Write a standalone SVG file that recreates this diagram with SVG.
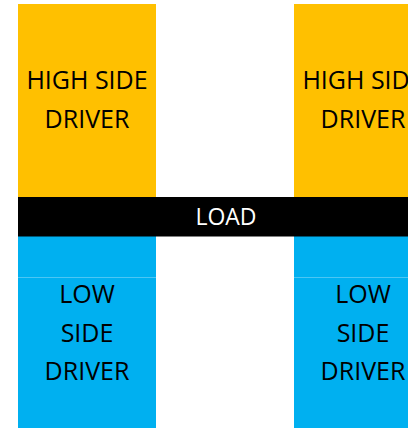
<svg xmlns="http://www.w3.org/2000/svg" width="408" height="428" viewBox="0 0 408 428">
  <style>
    .high { fill: #FFC000; }
    .low { fill: #00B0F0; }
    .seam { stroke: #4CC6F4; stroke-width: 1; }
    .bar { fill: #000000; }
    .lbl { font-family: "Open Sans", "Liberation Sans", sans-serif; font-size: 25px; fill: #000000; text-anchor: middle; }
    .lbl-load { font-family: "Open Sans", "Liberation Sans", sans-serif; font-size: 23px; fill: #FFFFFF; text-anchor: middle; }
  </style>
  <rect width="408" height="428" fill="#FFFFFF"/>

  <!-- high side drivers -->
  <g id="high-left">
    <rect class="high" x="18" y="4" width="138" height="194"/>
    <text class="lbl" x="87" y="89">HIGH SIDE</text>
    <text class="lbl" x="87" y="128">DRIVER</text>
  </g>
  <g id="high-right">
    <rect class="high" x="294" y="4" width="138" height="194"/>
    <text class="lbl" x="363" y="89">HIGH SIDE</text>
    <text class="lbl" x="363" y="128">DRIVER</text>
  </g>

  <!-- low side drivers -->
  <g id="low-left">
    <rect class="low" x="18" y="235" width="138" height="193"/>
    <line class="seam" x1="18" y1="277.5" x2="156" y2="277.5"/>
    <text class="lbl" x="87" y="302.5">LOW</text>
    <text class="lbl" x="87" y="341.5">SIDE</text>
    <text class="lbl" x="87" y="380">DRIVER</text>
  </g>
  <g id="low-right">
    <rect class="low" x="294" y="235" width="138" height="193"/>
    <line class="seam" x1="294" y1="277.5" x2="408" y2="277.5"/>
    <text class="lbl" x="363" y="302.5">LOW</text>
    <text class="lbl" x="363" y="341.5">SIDE</text>
    <text class="lbl" x="363" y="380">DRIVER</text>
  </g>

  <!-- load bar across the bridge -->
  <g id="load">
    <rect class="bar" x="18" y="197" width="390" height="39.5"/>
    <text class="lbl-load" x="226" y="224.5">LOAD</text>
  </g>

  <g id="connectors"/>
</svg>
